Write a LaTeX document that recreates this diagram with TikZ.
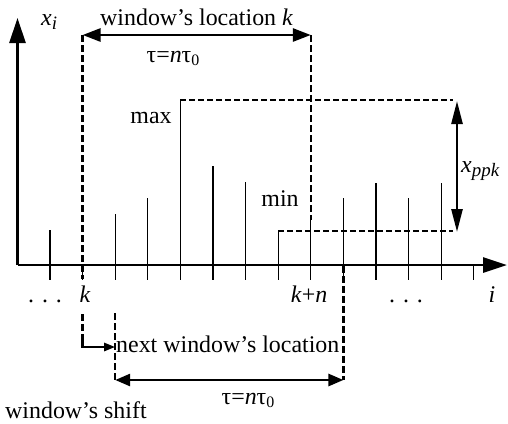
\documentclass[tikz,border=0pt]{standalone}
\usepackage{fontspec}
\setmainfont{Liberation Serif}
\usetikzlibrary{arrows.meta}
\newcommand\mysubx[1]{\raisebox{-0.45ex}{\fontsize{19}{21}\selectfont\itshape #1}}
\newcommand\mysubz[1]{\raisebox{-0.35ex}{\fontsize{16}{18}\selectfont #1}}
\begin{document}
\begin{tikzpicture}[x=1bp,y=-1bp,
  lbl/.style={inner sep=0pt, font=\fontsize{24}{28}\selectfont},
  axisline/.style={line width=2.8bp},
  stem/.style={line width=1.1bp},
  winline/.style={line width=2.4bp, dash pattern=on 7bp off 3bp},
  levline/.style={line width=2bp, dash pattern=on 6bp off 3bp},
  dimarrow/.style={line width=2.8bp},
]
\useasboundingbox (0,0) rectangle (508,423);
% axes
\coordinate (O) at (17.5,265);
\coordinate (ytip) at (17.5,18);
\coordinate (xtip) at (507,265);
\draw[axisline,-{Triangle[length=25bp,width=16bp]}] (O) -- (ytip);
\draw[axisline,-{Triangle[length=24bp,width=15bp]}] (O) -- (xtip);
% ticks
\foreach \j in {0,...,13} \draw[stem] ({50+32.6*\j},265) -- ({50+32.6*\j},280);
% stems
\foreach \j/\t in {0/230,2/214,3/198,4/100,5/166,6/182,7/231,8/220,9/198,10/183,11/198,12/183}
  \draw[stem] ({50+32.6*\j},265) -- ({50+32.6*\j},\t);
% window k
\coordinate (wkL) at (82.6,35);
\coordinate (wkLb) at (82.6,279);
\coordinate (wkR) at (310.8,35);
\coordinate (wkRb) at (310.8,220);
\draw[winline] (wkL) -- (wkLb);
\draw[winline] (wkR) -- (wkRb);
\draw[dimarrow,{Triangle[length=18bp,width=13bp]}-{Triangle[length=18bp,width=13bp]}] (wkL) -- (wkR);
% max/min levels
\coordinate (maxL) at (180.4,100);
\coordinate (maxR) at (453,100);
\coordinate (minL) at (278.2,231);
\coordinate (minR) at (453,231);
\draw[levline] (maxL) -- (maxR);
\draw[levline] (minL) -- (minR);
\coordinate (ppT) at (457,101);
\coordinate (ppB) at (457,232);
\draw[line width=2.6bp,{Triangle[length=23bp,width=11bp]}-{Triangle[length=23bp,width=11bp]}] (ppT) -- (ppB);
% next window
\coordinate (nwL) at (115.2,313);
\coordinate (nwLb) at (115.2,380);
\coordinate (nwR) at (343.4,266);
\coordinate (nwRb) at (343.4,380);
\draw[winline] (nwL) -- (nwLb);
\draw[winline] (nwR) -- (nwRb);
\draw[dimarrow,{Triangle[length=15bp,width=12bp]}-{Triangle[length=15bp,width=12bp]}] (nwLb) -- (nwRb);
% shift
\coordinate (shA) at (82.6,314);
\coordinate (shB) at (82.6,340);
\coordinate (shC) at (82.6,347);
\coordinate (shD) at (115.2,347);
\draw[winline] (shA) -- (shB);
\draw[line width=2.4bp,-{Triangle[length=11bp,width=8bp]}] (shB) -- (shC) -- (shD);
% labels
\node[lbl,anchor=base west] (xi) at (41,25) {\textit{x}\mysubx{i}};
\node[lbl,anchor=base west] (wloc) at (100,25) {window’s location \textit{k}};
\node[lbl,anchor=base] (tau1) at (173,62) {τ=\textit{n}τ\mysubz{0}};
\node[lbl,anchor=base] (max) at (151,123) {max};
\node[lbl,anchor=base] (min) at (280,206) {min};
\node[lbl,anchor=base west] (xpp) at (461,172) {\textit{x}\mysubx{ppk}};
\node[lbl,anchor=base] (d1) at (45,302) {. . .};
\node[lbl,anchor=base] (k) at (85,302) {\textit{k}};
\node[lbl,anchor=base] (kn) at (309,302) {\textit{k}+\textit{n}};
\node[lbl,anchor=base] (d2) at (406,302) {. . .};
\node[lbl,anchor=base] (i) at (492,302) {\textit{i}};
\node[lbl,anchor=base west] (nwl) at (116,352) {next window’s location};
\node[lbl,anchor=base] (tau2) at (248,404) {τ=\textit{n}τ\mysubz{0}};
\node[lbl,anchor=base west] (ws) at (5,418) {window’s shift};
\end{tikzpicture}
\end{document}
